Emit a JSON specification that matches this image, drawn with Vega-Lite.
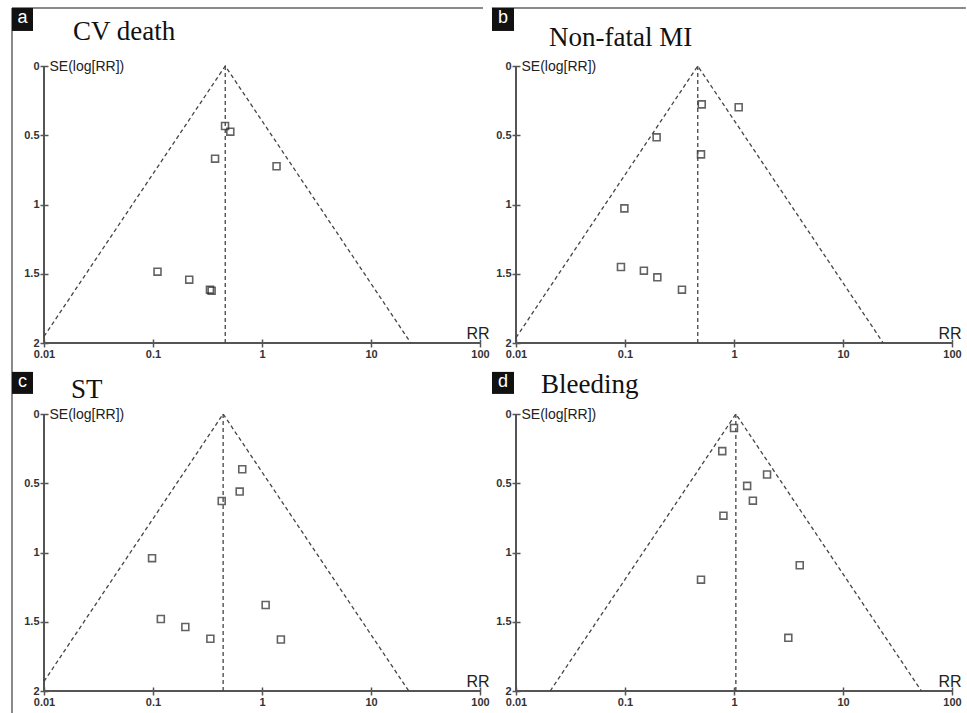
{
"$schema":"https://vega.github.io/schema/vega-lite/v6.json",
"background":"white",
"padding":{"left":10,"top":6,"right":0,"bottom":0},
"datasets":{
"pts":[
{"p":"a","rr":0.458,"se":0.433},{"p":"a","rr":0.512,"se":0.474},{"p":"a","rr":0.371,"se":0.669},{"p":"a","rr":1.36,"se":0.724},{"p":"a","rr":0.110,"se":1.485},{"p":"a","rr":0.215,"se":1.543},{"p":"a","rr":0.333,"se":1.615},{"p":"a","rr":0.345,"se":1.623},
{"p":"b","rr":0.506,"se":0.277},{"p":"b","rr":1.104,"se":0.298},{"p":"b","rr":0.195,"se":0.515},{"p":"b","rr":0.498,"se":0.638},{"p":"b","rr":0.0987,"se":1.028},{"p":"b","rr":0.0918,"se":1.451},{"p":"b","rr":0.149,"se":1.478},{"p":"b","rr":0.198,"se":1.526},{"p":"b","rr":0.333,"se":1.615},
{"p":"c","rr":0.659,"se":0.399},{"p":"c","rr":0.624,"se":0.560},{"p":"c","rr":0.427,"se":0.628},{"p":"c","rr":0.098,"se":1.041},{"p":"c","rr":1.08,"se":1.379},{"p":"c","rr":0.118,"se":1.480},{"p":"c","rr":0.198,"se":1.538},{"p":"c","rr":0.336,"se":1.623},{"p":"c","rr":1.49,"se":1.628},
{"p":"d","rr":1.0,"se":0.101},{"p":"d","rr":0.78,"se":0.268},{"p":"d","rr":2.01,"se":0.437},{"p":"d","rr":1.32,"se":0.519},{"p":"d","rr":1.49,"se":0.626},{"p":"d","rr":0.80,"se":0.734},{"p":"d","rr":0.498,"se":1.196},{"p":"d","rr":4.01,"se":1.092},{"p":"d","rr":3.15,"se":1.616}
],
"fun":[
{"p":"a","rr":0.01,"se":1.953},{"p":"a","rr":0.46,"se":0},{"p":"a","rr":23.2,"se":2},
{"p":"b","rr":0.01,"se":1.962},{"p":"b","rr":0.465,"se":0},{"p":"b","rr":23.4,"se":2},
{"p":"c","rr":0.01,"se":1.931},{"p":"c","rr":0.44,"se":0},{"p":"c","rr":22.2,"se":2},
{"p":"d","rr":0.0206,"se":2},{"p":"d","rr":1.04,"se":0},{"p":"d","rr":52.4,"se":2}
],
"ctr":[{"p":"a","rr":0.46},{"p":"b","rr":0.465},{"p":"c","rr":0.44},{"p":"d","rr":1.04}]
},
"columns":2,
"spacing":{"row":71,"column":36},
"bounds":"flush",
"concat":[
{"width":436,"height":277,"layer":[
{"data":{"name":"pts"},"transform":[{"filter":"datum.p=='a'"}],"mark":{"type":"point","shape":"square","size":48,"filled":false,"stroke":"#222222","strokeWidth":1.6},"encoding":{"x":{"field":"rr","type":"quantitative","title":"RR","scale":{"type":"log","domain":[0.01,100]},"axis":{"values":[0.01,0.1,1,10,100],"format":"~g"}},"y":{"field":"se","type":"quantitative","title":"SE(log[RR])","scale":{"domain":[0,2],"reverse":true,"nice":false,"zero":false},"axis":{"values":[0,0.5,1,1.5,2],"format":"~g"}}}},
{"data":{"values":[{}]},"mark":{"type":"rule","color":"#8a8a8a","strokeWidth":2},"encoding":{"x":{"datum":0.005085,"type":"quantitative","scale":{"type":"log","domain":[0.01,100]}},"x2":{"datum":106.5},"y":{"datum":-0.419,"type":"quantitative","scale":{"domain":[0,2],"reverse":true,"nice":false,"zero":false}}}},
{"data":{"values":[{}]},"mark":{"type":"rule","color":"#8a8a8a","strokeWidth":2},"encoding":{"x":{"datum":0.005085,"type":"quantitative","scale":{"type":"log","domain":[0.01,100]}},"y":{"datum":-0.419,"type":"quantitative","scale":{"domain":[0,2],"reverse":true,"nice":false,"zero":false}},"y2":{"datum":2.05}}},
{"data":{"values":[{}]},"mark":{"type":"rule","color":"#555555","strokeWidth":2},"encoding":{"x":{"datum":0.01,"type":"quantitative","scale":{"type":"log","domain":[0.01,100]}},"y":{"datum":0,"type":"quantitative","scale":{"domain":[0,2],"reverse":true,"nice":false,"zero":false}},"y2":{"datum":2}}},
{"data":{"values":[{}]},"mark":{"type":"rule","color":"#555555","strokeWidth":2},"encoding":{"x":{"datum":0.01,"type":"quantitative","scale":{"type":"log","domain":[0.01,100]}},"x2":{"datum":100},"y":{"datum":2,"type":"quantitative","scale":{"domain":[0,2],"reverse":true,"nice":false,"zero":false}}}},
{"data":{"name":"fun"},"transform":[{"filter":"datum.p=='a'"}],"mark":{"type":"line","color":"#444444","strokeWidth":1.3,"strokeDash":[4,3]},"encoding":{"x":{"field":"rr","type":"quantitative","scale":{"type":"log","domain":[0.01,100]}},"y":{"field":"se","type":"quantitative","scale":{"domain":[0,2],"reverse":true,"nice":false,"zero":false}}}},
{"data":{"name":"ctr"},"transform":[{"filter":"datum.p=='a'"}],"mark":{"type":"rule","color":"#444444","strokeWidth":1.3,"strokeDash":[4,3]},"encoding":{"x":{"field":"rr","type":"quantitative","scale":{"type":"log","domain":[0.01,100]}},"y":{"datum":0,"type":"quantitative","scale":{"domain":[0,2],"reverse":true,"nice":false,"zero":false}},"y2":{"datum":2}}},
{"data":{"values":[{}]},"mark":{"type":"rect","color":"#111111"},"encoding":{"x":{"datum":0.005085,"type":"quantitative","scale":{"type":"log","domain":[0.01,100]}},"x2":{"datum":0.00793},"y":{"datum":-0.419,"type":"quantitative","scale":{"domain":[0,2],"reverse":true,"nice":false,"zero":false}},"y2":{"datum":-0.253}}},
{"data":{"values":[{}]},"mark":{"type":"text","text":"a","font":"Liberation Sans","fontSize":18,"color":"white","align":"center","baseline":"middle"},"encoding":{"x":{"datum":0.006349,"type":"quantitative","scale":{"type":"log","domain":[0.01,100]}},"y":{"datum":-0.345,"type":"quantitative","scale":{"domain":[0,2],"reverse":true,"nice":false,"zero":false}}}},
{"data":{"values":[{}]},"mark":{"type":"text","text":"CV death","font":"Liberation Serif","fontSize":27,"color":"#111111","align":"left","baseline":"alphabetic"},"encoding":{"x":{"datum":0.01846,"type":"quantitative","scale":{"type":"log","domain":[0.01,100]}},"y":{"datum":-0.188,"type":"quantitative","scale":{"domain":[0,2],"reverse":true,"nice":false,"zero":false}}}}
]},
{"width":436,"height":277,"layer":[
{"data":{"name":"pts"},"transform":[{"filter":"datum.p=='b'"}],"mark":{"type":"point","shape":"square","size":48,"filled":false,"stroke":"#222222","strokeWidth":1.6},"encoding":{"x":{"field":"rr","type":"quantitative","title":"RR","scale":{"type":"log","domain":[0.01,100]},"axis":{"values":[0.01,0.1,1,10,100],"format":"~g"}},"y":{"field":"se","type":"quantitative","title":"SE(log[RR])","scale":{"domain":[0,2],"reverse":true,"nice":false,"zero":false},"axis":{"values":[0,0.5,1,1.5,2],"format":"~g"}}}},
{"data":{"values":[{}]},"mark":{"type":"rule","color":"#8a8a8a","strokeWidth":2},"encoding":{"x":{"datum":0.006,"type":"quantitative","scale":{"type":"log","domain":[0.01,100]}},"x2":{"datum":134},"y":{"datum":-0.419,"type":"quantitative","scale":{"domain":[0,2],"reverse":true,"nice":false,"zero":false}}}},
{"data":{"values":[{}]},"mark":{"type":"rule","color":"#555555","strokeWidth":2},"encoding":{"x":{"datum":0.01,"type":"quantitative","scale":{"type":"log","domain":[0.01,100]}},"y":{"datum":0,"type":"quantitative","scale":{"domain":[0,2],"reverse":true,"nice":false,"zero":false}},"y2":{"datum":2}}},
{"data":{"values":[{}]},"mark":{"type":"rule","color":"#555555","strokeWidth":2},"encoding":{"x":{"datum":0.01,"type":"quantitative","scale":{"type":"log","domain":[0.01,100]}},"x2":{"datum":100},"y":{"datum":2,"type":"quantitative","scale":{"domain":[0,2],"reverse":true,"nice":false,"zero":false}}}},
{"data":{"name":"fun"},"transform":[{"filter":"datum.p=='b'"}],"mark":{"type":"line","color":"#444444","strokeWidth":1.3,"strokeDash":[4,3]},"encoding":{"x":{"field":"rr","type":"quantitative","scale":{"type":"log","domain":[0.01,100]}},"y":{"field":"se","type":"quantitative","scale":{"domain":[0,2],"reverse":true,"nice":false,"zero":false}}}},
{"data":{"name":"ctr"},"transform":[{"filter":"datum.p=='b'"}],"mark":{"type":"rule","color":"#444444","strokeWidth":1.3,"strokeDash":[4,3]},"encoding":{"x":{"field":"rr","type":"quantitative","scale":{"type":"log","domain":[0.01,100]}},"y":{"datum":0,"type":"quantitative","scale":{"domain":[0,2],"reverse":true,"nice":false,"zero":false}},"y2":{"datum":2}}},
{"data":{"values":[{}]},"mark":{"type":"rect","color":"#111111"},"encoding":{"x":{"datum":0.006022,"type":"quantitative","scale":{"type":"log","domain":[0.01,100]}},"x2":{"datum":0.009586},"y":{"datum":-0.419,"type":"quantitative","scale":{"domain":[0,2],"reverse":true,"nice":false,"zero":false}},"y2":{"datum":-0.253}}},
{"data":{"values":[{}]},"mark":{"type":"text","text":"b","font":"Liberation Sans","fontSize":18,"color":"white","align":"center","baseline":"middle"},"encoding":{"x":{"datum":0.0076,"type":"quantitative","scale":{"type":"log","domain":[0.01,100]}},"y":{"datum":-0.345,"type":"quantitative","scale":{"domain":[0,2],"reverse":true,"nice":false,"zero":false}}}},
{"data":{"values":[{}]},"mark":{"type":"text","text":"Non-fatal MI","font":"Liberation Serif","fontSize":27,"color":"#111111","align":"left","baseline":"alphabetic"},"encoding":{"x":{"datum":0.0201,"type":"quantitative","scale":{"type":"log","domain":[0.01,100]}},"y":{"datum":-0.141,"type":"quantitative","scale":{"domain":[0,2],"reverse":true,"nice":false,"zero":false}}}}
]},
{"width":436,"height":277,"layer":[
{"data":{"name":"pts"},"transform":[{"filter":"datum.p=='c'"}],"mark":{"type":"point","shape":"square","size":48,"filled":false,"stroke":"#222222","strokeWidth":1.6},"encoding":{"x":{"field":"rr","type":"quantitative","title":"RR","scale":{"type":"log","domain":[0.01,100]},"axis":{"values":[0.01,0.1,1,10,100],"format":"~g"}},"y":{"field":"se","type":"quantitative","title":"SE(log[RR])","scale":{"domain":[0,2],"reverse":true,"nice":false,"zero":false},"axis":{"values":[0,0.5,1,1.5,2],"format":"~g"}}}},
{"data":{"values":[{}]},"mark":{"type":"rule","color":"#8a8a8a","strokeWidth":2},"encoding":{"x":{"datum":0.005085,"type":"quantitative","scale":{"type":"log","domain":[0.01,100]}},"y":{"datum":-0.53,"type":"quantitative","scale":{"domain":[0,2],"reverse":true,"nice":false,"zero":false}},"y2":{"datum":2.174}}},
{"data":{"values":[{}]},"mark":{"type":"rule","color":"#555555","strokeWidth":2},"encoding":{"x":{"datum":0.01,"type":"quantitative","scale":{"type":"log","domain":[0.01,100]}},"y":{"datum":0,"type":"quantitative","scale":{"domain":[0,2],"reverse":true,"nice":false,"zero":false}},"y2":{"datum":2}}},
{"data":{"values":[{}]},"mark":{"type":"rule","color":"#555555","strokeWidth":2},"encoding":{"x":{"datum":0.01,"type":"quantitative","scale":{"type":"log","domain":[0.01,100]}},"x2":{"datum":100},"y":{"datum":2,"type":"quantitative","scale":{"domain":[0,2],"reverse":true,"nice":false,"zero":false}}}},
{"data":{"name":"fun"},"transform":[{"filter":"datum.p=='c'"}],"mark":{"type":"line","color":"#444444","strokeWidth":1.3,"strokeDash":[4,3]},"encoding":{"x":{"field":"rr","type":"quantitative","scale":{"type":"log","domain":[0.01,100]}},"y":{"field":"se","type":"quantitative","scale":{"domain":[0,2],"reverse":true,"nice":false,"zero":false}}}},
{"data":{"name":"ctr"},"transform":[{"filter":"datum.p=='c'"}],"mark":{"type":"rule","color":"#444444","strokeWidth":1.3,"strokeDash":[4,3]},"encoding":{"x":{"field":"rr","type":"quantitative","scale":{"type":"log","domain":[0.01,100]}},"y":{"datum":0,"type":"quantitative","scale":{"domain":[0,2],"reverse":true,"nice":false,"zero":false}},"y2":{"datum":2}}},
{"data":{"values":[{}]},"mark":{"type":"rect","color":"#111111"},"encoding":{"x":{"datum":0.005085,"type":"quantitative","scale":{"type":"log","domain":[0.01,100]}},"x2":{"datum":0.00793},"y":{"datum":-0.304,"type":"quantitative","scale":{"domain":[0,2],"reverse":true,"nice":false,"zero":false}},"y2":{"datum":-0.145}}},
{"data":{"values":[{}]},"mark":{"type":"text","text":"c","font":"Liberation Sans","fontSize":18,"color":"white","align":"center","baseline":"middle"},"encoding":{"x":{"datum":0.006349,"type":"quantitative","scale":{"type":"log","domain":[0.01,100]}},"y":{"datum":-0.232,"type":"quantitative","scale":{"domain":[0,2],"reverse":true,"nice":false,"zero":false}}}},
{"data":{"values":[{}]},"mark":{"type":"text","text":"ST","font":"Liberation Serif","fontSize":27,"color":"#111111","align":"left","baseline":"alphabetic"},"encoding":{"x":{"datum":0.01769,"type":"quantitative","scale":{"type":"log","domain":[0.01,100]}},"y":{"datum":-0.116,"type":"quantitative","scale":{"domain":[0,2],"reverse":true,"nice":false,"zero":false}}}}
]},
{"width":436,"height":277,"layer":[
{"data":{"name":"pts"},"transform":[{"filter":"datum.p=='d'"}],"mark":{"type":"point","shape":"square","size":48,"filled":false,"stroke":"#222222","strokeWidth":1.6},"encoding":{"x":{"field":"rr","type":"quantitative","title":"RR","scale":{"type":"log","domain":[0.01,100]},"axis":{"values":[0.01,0.1,1,10,100],"format":"~g"}},"y":{"field":"se","type":"quantitative","title":"SE(log[RR])","scale":{"domain":[0,2],"reverse":true,"nice":false,"zero":false},"axis":{"values":[0,0.5,1,1.5,2],"format":"~g"}}}},
{"data":{"values":[{}]},"mark":{"type":"rule","color":"#555555","strokeWidth":2},"encoding":{"x":{"datum":0.01,"type":"quantitative","scale":{"type":"log","domain":[0.01,100]}},"y":{"datum":0,"type":"quantitative","scale":{"domain":[0,2],"reverse":true,"nice":false,"zero":false}},"y2":{"datum":2}}},
{"data":{"values":[{}]},"mark":{"type":"rule","color":"#555555","strokeWidth":2},"encoding":{"x":{"datum":0.01,"type":"quantitative","scale":{"type":"log","domain":[0.01,100]}},"x2":{"datum":100},"y":{"datum":2,"type":"quantitative","scale":{"domain":[0,2],"reverse":true,"nice":false,"zero":false}}}},
{"data":{"name":"fun"},"transform":[{"filter":"datum.p=='d'"}],"mark":{"type":"line","color":"#444444","strokeWidth":1.3,"strokeDash":[4,3]},"encoding":{"x":{"field":"rr","type":"quantitative","scale":{"type":"log","domain":[0.01,100]}},"y":{"field":"se","type":"quantitative","scale":{"domain":[0,2],"reverse":true,"nice":false,"zero":false}}}},
{"data":{"name":"ctr"},"transform":[{"filter":"datum.p=='d'"}],"mark":{"type":"rule","color":"#444444","strokeWidth":1.3,"strokeDash":[4,3]},"encoding":{"x":{"field":"rr","type":"quantitative","scale":{"type":"log","domain":[0.01,100]}},"y":{"datum":0,"type":"quantitative","scale":{"domain":[0,2],"reverse":true,"nice":false,"zero":false}},"y2":{"datum":2}}},
{"data":{"values":[{}]},"mark":{"type":"rect","color":"#111111"},"encoding":{"x":{"datum":0.006022,"type":"quantitative","scale":{"type":"log","domain":[0.01,100]}},"x2":{"datum":0.009586},"y":{"datum":-0.304,"type":"quantitative","scale":{"domain":[0,2],"reverse":true,"nice":false,"zero":false}},"y2":{"datum":-0.145}}},
{"data":{"values":[{}]},"mark":{"type":"text","text":"d","font":"Liberation Sans","fontSize":18,"color":"white","align":"center","baseline":"middle"},"encoding":{"x":{"datum":0.0076,"type":"quantitative","scale":{"type":"log","domain":[0.01,100]}},"y":{"datum":-0.232,"type":"quantitative","scale":{"domain":[0,2],"reverse":true,"nice":false,"zero":false}}}},
{"data":{"values":[{}]},"mark":{"type":"text","text":"Bleeding","font":"Liberation Serif","fontSize":27,"color":"#111111","align":"left","baseline":"alphabetic"},"encoding":{"x":{"datum":0.01696,"type":"quantitative","scale":{"type":"log","domain":[0.01,100]}},"y":{"datum":-0.152,"type":"quantitative","scale":{"domain":[0,2],"reverse":true,"nice":false,"zero":false}}}}
]}
],
"config":{
"view":{"stroke":null},
"axis":{"domain":false,"grid":false,"ticks":true,"tickSize":8,"tickWidth":1.5,"tickColor":"#555555","offset":-4,"labelPadding":1,"labelFont":"Liberation Sans","labelFontSize":11,"labelFontWeight":"bold","labelColor":"#333333","labelFlush":false,"labelOverlap":false,"titleFont":"Liberation Sans","titleFontSize":16,"titleFontWeight":"normal","titleColor":"#222222","titleAngle":0,"titlePadding":0},
"axisX":{"titleX":422,"titleY":-1,"titleAlign":"left","titleBaseline":"alphabetic"},
"axisY":{"titleX":1,"titleY":0,"titleAlign":"left","titleBaseline":"middle","titleFontSize":14}
}
}
